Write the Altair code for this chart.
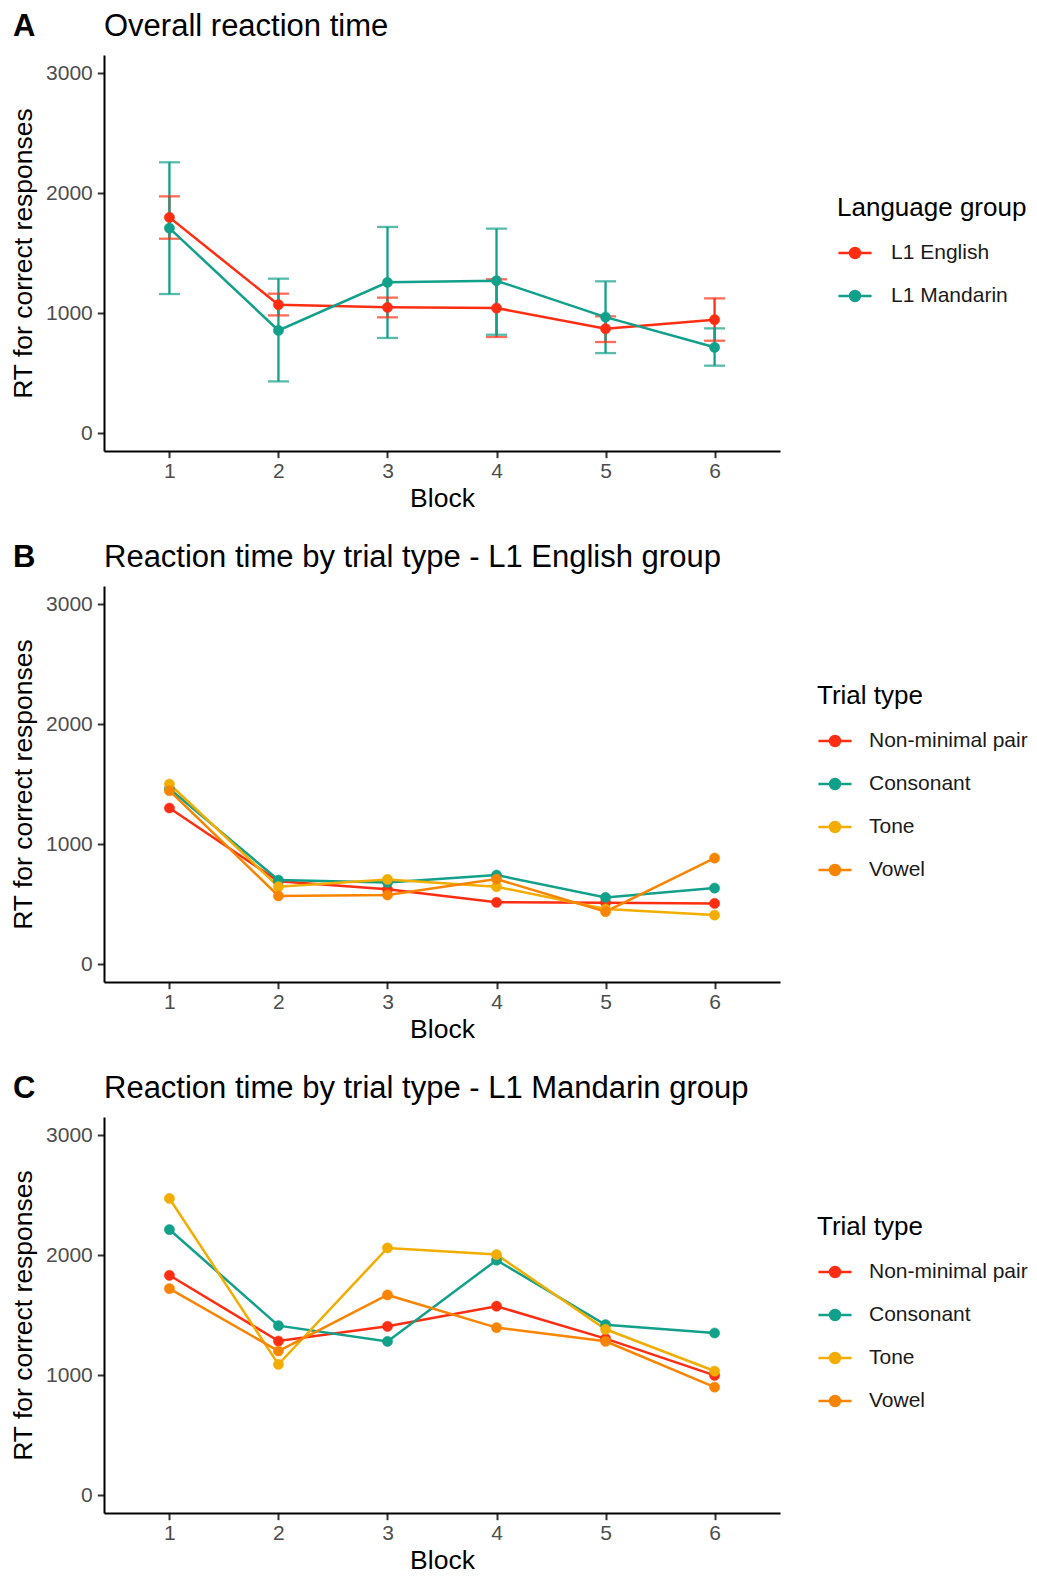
import altair as alt
import pandas as pd

# ---------------- data ----------------
blocks = [1, 2, 3, 4, 5, 6]

# Panel A: overall reaction time (mean, lower, upper)
lang_groups = ["L1 English", "L1 Mandarin"]
eng_mean = [1797, 1069, 1047, 1041, 869, 944]
eng_lo = [1619, 980, 964, 800, 758, 769]
eng_hi = [1972, 1161, 1128, 1281, 972, 1122]
man_mean = [1708, 855, 1256, 1269, 966, 714]
man_lo = [1158, 430, 792, 819, 666, 561]
man_hi = [2256, 1286, 1717, 1703, 1264, 872]

# Panel B: L1 English group by trial type
trial_types = ["Non-minimal pair", "Consonant", "Tone", "Vowel"]
eng_nonmin = [1300, 689, 622, 514, 511, 505]
eng_cons = [1460, 700, 680, 741, 555, 633]
eng_tone = [1500, 644, 705, 644, 458, 408]
eng_vowel = [1444, 567, 575, 708, 436, 883]

# Panel C: L1 Mandarin group by trial type
man_nonmin = [1831, 1283, 1406, 1573, 1303, 997]
man_cons = [2212, 1411, 1280, 1957, 1419, 1350]
man_tone = [2471, 1089, 2059, 2004, 1381, 1033]
man_vowel = [1720, 1200, 1667, 1395, 1281, 899]

panel_tags = ["A", "B", "C"]
panel_titles = [
    "Overall reaction time",
    "Reaction time by trial type - L1 English group",
    "Reaction time by trial type - L1 Mandarin group",
]

lang_colors = ["#FF2D12", "#11A08A"]
trial_colors = ["#FF2D12", "#11A08A", "#F2AD00", "#F98400"]

FONT = "Liberation Sans"
SYMBOL = "M-1,0L1,0M-0.3,0A0.3,0.3,0,1,1,0.3,0A0.3,0.3,0,1,1,-0.3,0Z"
W, H = 676, 396


def build_df(names, series, lo=None, hi=None):
    rows = []
    for i, n in enumerate(names):
        for j, b in enumerate(blocks):
            r = {"Group": n, "Block": b, "RT": series[i][j]}
            if lo is not None:
                r["lo"] = lo[i][j]
                r["hi"] = hi[i][j]
            rows.append(r)
    return pd.DataFrame(rows)


dfA = build_df(lang_groups, [eng_mean, man_mean], [eng_lo, man_lo], [eng_hi, man_hi])
dfB = build_df(trial_types, [eng_nonmin, eng_cons, eng_tone, eng_vowel])
dfC = build_df(trial_types, [man_nonmin, man_cons, man_tone, man_vowel])


def xenc():
    return alt.X(
        "Block:Q",
        scale=alt.Scale(domain=[0.4, 6.6], nice=False, zero=False),
        axis=alt.Axis(values=blocks, format="d", title="Block"),
    )


def yenc(field="RT"):
    return alt.Y(
        f"{field}:Q",
        scale=alt.Scale(domain=[-150, 3150], nice=False, zero=False),
        axis=alt.Axis(values=[0, 1000, 2000, 3000], format="d",
                      title="RT for correct responses"),
    )


def panel(df, idx, legend_title, names, colors, lx, ly, loff, errors=False):
    scale = alt.Scale(domain=names, range=colors)
    leg = alt.Legend(
        title=legend_title,
        orient="none",
        legendX=lx,
        legendY=ly,
        symbolType=SYMBOL,
        symbolSize=1100,
        symbolStrokeWidth=2.5,
        titleFontSize=26,
        titleFontWeight="normal",
        titleColor="#000000",
        titleFont=FONT,
        titlePadding=14,
        titleLimit=500,
        labelFontSize=21,
        labelColor="#1A1A1A",
        labelFont=FONT,
        labelOffset=loff,
        labelLimit=500,
        rowPadding=15,
    )

    def fill():
        return alt.Fill("Group:N", scale=scale, legend=leg)

    def stroke():
        return alt.Stroke("Group:N", scale=scale, legend=leg)

    base = alt.Chart(df)
    layers = []
    if errors:
        layers.append(
            base.mark_rule(strokeWidth=2.3).encode(
                x=xenc(), y=yenc("lo"), y2="hi:Q", stroke=stroke(),
            )
        )
        for f in ["lo", "hi"]:
            layers.append(
                base.mark_tick(orient="horizontal", size=21, thickness=2.3).encode(
                    x=xenc(), y=yenc(f), fill=fill(),
                )
            )
    layers.append(
        base.mark_line(strokeWidth=2.5).encode(
            x=xenc(), y=yenc(), stroke=stroke(),
        )
    )
    layers.append(
        base.mark_circle(size=105, opacity=1, strokeWidth=0.5).encode(
            x=xenc(), y=yenc(), fill=fill(), stroke=stroke(),
        )
    )
    head = alt.Chart(pd.DataFrame({"tag": [panel_tags[idx]], "title": [panel_titles[idx]]}))
    layers.append(
        head.mark_text(
            align="left", baseline="alphabetic", fontSize=31, fontWeight="bold",
            font=FONT, color="#000000",
        ).encode(text="tag:N", x=alt.value(-91), y=alt.value(-19))
    )
    layers.append(
        head.mark_text(
            align="left", baseline="alphabetic", fontSize=31, fontWeight="normal",
            font=FONT, color="#000000",
        ).encode(text="title:N", x=alt.value(0), y=alt.value(-19))
    )
    return alt.layer(*layers).properties(width=W, height=H)


pA = panel(dfA, 0, "Language group", lang_groups, lang_colors, 733, 140, 18, errors=True)
pB = panel(dfB, 1, "Trial type", trial_types, trial_colors, 713, 97, 16)
pC = panel(dfC, 2, "Trial type", trial_types, trial_colors, 713, 97, 16)

chart = (
    alt.vconcat(pA, pB, pC, spacing=29)
    .resolve_scale(fill="independent", stroke="independent", x="independent", y="independent")
    .resolve_legend(fill="independent", stroke="independent")
    .properties(padding={"left": 2, "top": 3, "right": 0, "bottom": 0}, background="white")
    .configure_view(stroke=None)
    .configure_axis(
        grid=False,
        domainColor="#000000",
        domainWidth=2,
        tickColor="#333333",
        tickWidth=2,
        tickSize=6.7,
        labelFont=FONT,
        labelFontSize=21,
        labelColor="#4D4D4D",
        titleFont=FONT,
        titleFontSize=26.5,
        titleFontWeight="normal",
        titleColor="#000000",
    )
    .configure_axisX(labelPadding=3, titlePadding=4)
    .configure_axisY(labelPadding=5, titlePadding=8)
)

chart.save("out.html", embed_options={"renderer": "svg", "actions": False})
